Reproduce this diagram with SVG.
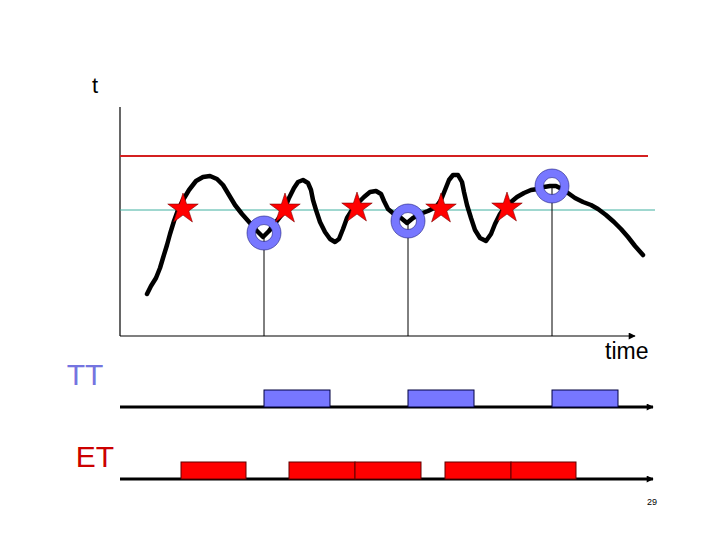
<svg xmlns="http://www.w3.org/2000/svg" width="720" height="540" viewBox="0 0 720 540">
<style>
text{font-family:"Liberation Sans",Arial,sans-serif}
.axis{stroke:#000;stroke-width:1.2;fill:none}
.tl{stroke:#000;stroke-width:3;fill:none}
.drop{stroke:#000;stroke-width:1;fill:none}
.sig{stroke:#000;stroke-width:4.5;fill:none;stroke-linejoin:round;stroke-linecap:round}
.ring{fill:#7777ff;fill-rule:evenodd;stroke:#202080;stroke-width:0.6}
.star{fill:#ff0000;stroke:#800000;stroke-width:0.6}
.tt{fill:#7777ff;stroke:#000040;stroke-width:1}
.et{fill:#ff0000;stroke:#600000;stroke-width:1}
</style>
<defs>
<path id="starp" d="M0,-16 L3.59,-4.94 L15.22,-4.94 L5.80,1.89 L9.40,12.94 L0,6.1 L-9.40,12.94 L-5.80,1.89 L-15.22,-4.94 L-3.59,-4.94 Z"/>
<path id="ringp" d="M-17,0 A17,17 0 1,0 17,0 A17,17 0 1,0 -17,0 Z M-8.5,0 A8.5,8.5 0 1,0 8.5,0 A8.5,8.5 0 1,0 -8.5,0 Z"/>
<marker id="arr" viewBox="0 0 10 10" refX="9" refY="5" markerWidth="10" markerHeight="7" markerUnits="userSpaceOnUse" orient="auto">
<path d="M0,0 L10,5 L0,10 Z" fill="#000"/>
</marker>
</defs>
<rect width="720" height="540" fill="#fff"/>
<g id="labels">
<text x="95" y="93" font-size="22" text-anchor="middle">t</text>
<text x="605" y="359" font-size="23">time</text>
<text x="85" y="385" font-size="30" text-anchor="middle" fill="#7474e0">TT</text>
<text x="95" y="467" font-size="30" text-anchor="middle" fill="#cc0000">ET</text>
<text x="652" y="505" font-size="9" text-anchor="middle">29</text>
</g>
<g id="chart">
<line class="axis" x1="120" y1="107" x2="120" y2="336"/>
<line x1="120" y1="156" x2="648" y2="156" stroke="#d42020" stroke-width="2"/>
<line x1="120" y1="210" x2="655" y2="210" stroke="#40b0a0" stroke-width="1"/>
</g>
<g id="connectors">
<line class="axis" x1="120" y1="336" x2="635" y2="336" stroke-width="1.8" marker-end="url(#arr)"/>
<line class="drop" x1="264" y1="237" x2="264" y2="336"/>
<line class="drop" x1="408" y1="223" x2="408" y2="336"/>
<line class="drop" x1="552" y1="186" x2="552" y2="336"/>
<line class="tl" x1="120" y1="407" x2="653" y2="407" marker-end="url(#arr)"/>
<line class="tl" x1="120" y1="479" x2="653" y2="479" marker-end="url(#arr)"/>
</g>
<g id="signal">
<polyline class="sig" points="147,294 151,286 156,278 160,268 163,258 167,245 170,234 174,221 178,210 183,200 189,190 196,181 203,177 210,176 217,179 223,185 229,195 235,205 242,214 250,223 257,231 263,237 269,231 276,222 283,213 289,198 294,188 298,182 303,180 308,183 311,190 313,200 316,210 320,222 325,232 330,239 335,242 339,239 343,229 347,218 352,210 358,203 364,197 370,192 376,191 381,194 384,201 388,209 394,214 401,218 407,223 413,218 420,214 428,211 436,207 441,200 445,190 449,180 453,175 458,175 462,182 464,192 467,205 471,218 475,230 480,238 486,241 491,234 495,224 500,214 505,207 511,202 517,197 524,193 531,190 538,189 544,187 550,186 556,186 562,189 568,193 575,198 583,202 591,205 598,209 606,215 614,222 621,229 628,237 635,246 643,255"/>
</g>
<g id="samples">
<use href="#ringp" class="ring" x="264" y="233"/>
<use href="#ringp" class="ring" x="408" y="221"/>
<use href="#ringp" class="ring" x="552" y="186"/>
</g>
<g id="events">
<use href="#starp" class="star" x="183" y="209"/>
<use href="#starp" class="star" x="285" y="209"/>
<use href="#starp" class="star" x="357" y="208"/>
<use href="#starp" class="star" x="441" y="209"/>
<use href="#starp" class="star" x="507" y="208"/>
</g>
<g id="tt-tasks">
<rect class="tt" x="264" y="390" width="66" height="17"/>
<rect class="tt" x="408" y="390" width="66" height="17"/>
<rect class="tt" x="552" y="390" width="66" height="17"/>
</g>
<g id="et-tasks">
<rect class="et" x="181" y="462" width="65" height="17"/>
<rect class="et" x="289" y="462" width="66" height="17"/>
<rect class="et" x="355" y="462" width="66" height="17"/>
<rect class="et" x="445" y="462" width="66" height="17"/>
<rect class="et" x="511" y="462" width="65" height="17"/>
</g>
</svg>
